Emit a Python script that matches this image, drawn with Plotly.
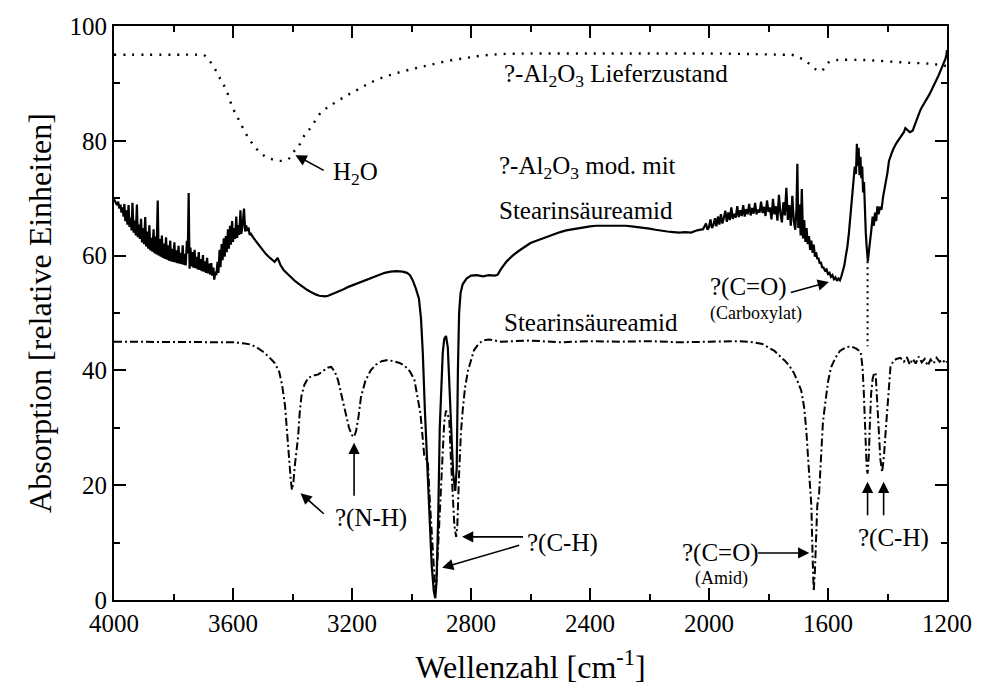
import plotly.graph_objects as go

# ---------------- data ----------------
# gamma-Al2O3 as delivered (dotted)
x_lief = [4000, 3800, 3720, 3697, 3680, 3657, 3640, 3623, 3603, 3580, 3557, 3540, 3523, 3505, 3490,
          3470, 3457, 3440, 3423, 3410, 3403, 3390, 3380, 3363, 3350, 3337, 3320, 3303, 3285, 3270,
          3250, 3223, 3200, 3170, 3140, 3103, 3050, 2990, 2940, 2880, 2820, 2770, 2700, 2600, 2400,
          2200, 2000, 1850, 1750, 1723, 1700, 1685, 1670, 1655, 1637, 1625, 1613, 1605, 1597, 1580,
          1557, 1500, 1450, 1390, 1330, 1280, 1250, 1223, 1200]
y_lief = [95.0, 95.0, 95.0, 94.9, 94.0, 92.2, 90.5, 88.9, 86.0, 83.6, 81.3, 79.9, 78.7, 77.8, 77.2,
          76.8, 76.6, 76.5, 76.6, 77.0, 77.8, 78.4, 79.0, 80.7, 81.6, 82.4, 83.8, 85.0, 85.7, 86.2,
          86.9, 87.7, 88.4, 89.2, 90.1, 90.9, 91.8, 92.6, 93.2, 93.9, 94.4, 94.8, 95.1, 95.2, 95.2,
          95.2, 95.2, 95.1, 95.0, 95.0, 94.6, 94.2, 93.7, 93.0, 92.3, 92.1, 92.6, 93.2, 93.7, 94.0,
          94.1, 94.1, 94.0, 93.8, 93.6, 93.5, 93.4, 93.2, 93.0]

# gamma-Al2O3 modified with stearic acid amide (solid)
x_mod = [4000, 3994, 3990, 3986, 3982, 3978, 3975, 3971, 3968, 3965, 3962, 3958, 3955, 3951, 3948,
         3944, 3941, 3938, 3934, 3930, 3927, 3923, 3920, 3916, 3913, 3909, 3906, 3902, 3899, 3895,
         3892, 3888, 3885, 3881, 3878, 3874, 3871, 3867, 3864, 3860, 3857, 3853, 3850, 3846, 3843,
         3839, 3836, 3832, 3829, 3825, 3822, 3818, 3815, 3811, 3808, 3804, 3801, 3797, 3794, 3790,
         3787, 3783, 3780, 3776, 3773, 3769, 3766, 3762, 3759, 3755, 3752, 3749, 3746, 3743, 3740,
         3736, 3733, 3729, 3726, 3722, 3719, 3715, 3712, 3708, 3705, 3701, 3698, 3694, 3691, 3687,
         3684, 3680, 3677, 3673, 3670, 3666, 3663, 3659, 3656, 3652, 3649, 3645, 3642, 3638, 3635,
         3631, 3628, 3624, 3621, 3617, 3614, 3610, 3607, 3603, 3600, 3596, 3593, 3589, 3586, 3582,
         3579, 3575, 3572, 3568, 3563, 3559, 3556, 3552, 3548, 3544, 3540, 3530, 3520, 3510, 3500,
         3490, 3480, 3470, 3460, 3450, 3440, 3430, 3420, 3410, 3400, 3390, 3380, 3370, 3360, 3350,
         3340, 3330, 3320, 3310, 3300, 3290, 3280, 3270, 3250, 3230, 3210, 3190, 3170, 3150, 3130,
         3110, 3090, 3070, 3050, 3030, 3015, 3005, 2995, 2985, 2975, 2968, 2962, 2955, 2948, 2940,
         2932, 2925, 2920, 2916, 2910, 2905, 2900, 2895, 2890, 2884, 2878, 2872, 2866, 2860, 2853,
         2848, 2844, 2840, 2835, 2828, 2815, 2800, 2780, 2760, 2740, 2720, 2710, 2700, 2680, 2660,
         2640, 2620, 2600, 2580, 2560, 2540, 2520, 2500, 2480, 2460, 2440, 2420, 2400, 2380, 2360,
         2340, 2320, 2300, 2280, 2260, 2240, 2220, 2200, 2180, 2160, 2140, 2120, 2100, 2080, 2060,
         2040, 2020, 2010, 2005, 2000, 1995, 1990, 1985, 1980, 1975, 1970, 1965, 1960, 1955, 1950,
         1945, 1940, 1935, 1930, 1925, 1920, 1915, 1910, 1905, 1900, 1895, 1890, 1885, 1880, 1875,
         1870, 1865, 1860, 1855, 1850, 1845, 1840, 1835, 1830, 1825, 1820, 1815, 1810, 1805, 1800,
         1795, 1790, 1785, 1780, 1775, 1770, 1765, 1760, 1755, 1750, 1745, 1740, 1735, 1730, 1725,
         1720, 1715, 1710, 1706, 1703, 1700, 1696, 1692, 1688, 1684, 1680, 1676, 1672, 1668, 1664,
         1660, 1656, 1652, 1648, 1644, 1640, 1636, 1632, 1628, 1624, 1620, 1615, 1610, 1605, 1600,
         1595, 1590, 1585, 1580, 1575, 1570, 1565, 1560, 1555, 1550, 1545, 1540, 1535, 1530, 1526,
         1522, 1518, 1514, 1510, 1506, 1503, 1500, 1497, 1494, 1491, 1488, 1485, 1482, 1479, 1476,
         1473, 1470, 1466, 1462, 1458, 1454, 1450, 1446, 1442, 1438, 1434, 1430, 1425, 1420, 1415,
         1410, 1405, 1400, 1395, 1390, 1385, 1380, 1375, 1370, 1365, 1360, 1355, 1350, 1345, 1340,
         1335, 1330, 1325, 1320, 1315, 1310, 1305, 1300, 1295, 1290, 1285, 1280, 1275, 1270, 1265,
         1260, 1255, 1250, 1245, 1240, 1235, 1230, 1225, 1220, 1215, 1210, 1205, 1202, 1200]
y_mod = [69.8, 69.3, 68.8, 69.4, 68.2, 68.9, 67.5, 68.4, 66.8, 69.0, 66.0, 67.9, 65.4, 68.8, 65.0,
         66.6, 64.4, 69.2, 64.0, 66.1, 63.5, 68.9, 63.2, 65.4, 62.9, 66.4, 62.3, 64.8, 62.0, 66.7,
         61.6, 64.2, 61.2, 65.3, 60.9, 63.1, 60.7, 64.6, 60.4, 63.3, 60.2, 69.6, 60.0, 62.9, 59.8,
         63.5, 59.6, 62.1, 59.4, 63.2, 59.3, 61.8, 59.1, 62.6, 59.0, 61.2, 58.9, 62.3, 58.8, 60.9,
         58.7, 61.7, 58.6, 60.5, 58.5, 61.8, 58.4, 60.3, 58.3, 62.6, 60.4, 70.9, 57.7, 61.4, 58.1,
         60.6, 57.9, 61.0, 57.8, 59.8, 57.6, 60.6, 57.5, 59.4, 57.3, 60.1, 57.2, 59.0, 57.0, 59.6,
         56.9, 58.6, 56.7, 58.7, 56.5, 57.9, 55.8, 57.2, 56.6, 58.9, 57.0, 61.0, 58.0, 62.0, 59.2,
         63.0, 59.8, 63.4, 60.6, 64.6, 61.2, 65.2, 61.9, 66.0, 62.4, 64.8, 62.9, 66.8, 63.1, 65.3,
         63.6, 67.9, 63.8, 65.2, 68.2, 64.2, 65.3, 64.3, 64.9, 63.6, 63.8, 63.0, 62.3, 61.5, 61.0,
         60.3, 59.8, 59.3, 58.9, 59.6, 58.3, 57.5, 57.0, 56.4, 55.9, 55.5, 55.1, 54.7, 54.3, 54.0,
         53.7, 53.4, 53.2, 53.0, 52.9, 52.9, 53.0, 53.2, 53.6, 54.1, 54.6, 55.0, 55.5, 55.9, 56.3,
         56.7, 57.0, 57.2, 57.3, 57.2, 57.0, 56.6, 55.6, 54.2, 52.5, 49.0, 43.0, 33.0, 24.0, 14.0,
         6.0, 1.5, 0.3, 3.0, 15.0, 30.0, 38.0, 43.0, 45.5, 46.0, 44.0, 36.0, 28.0, 22.0, 19.0,
         23.0, 40.0, 50.0, 53.5, 55.0, 56.0, 56.5, 56.6, 56.4, 56.6, 56.5, 56.7, 57.6, 59.0, 60.0,
         60.8, 61.5, 62.2, 62.6, 63.0, 63.4, 63.8, 64.1, 64.4, 64.6, 64.8, 65.0, 65.1, 65.2, 65.2,
         65.2, 65.3, 65.2, 65.2, 65.1, 65.0, 64.9, 64.7, 64.5, 64.3, 64.2, 64.1, 64.0, 64.1, 64.0,
         64.4, 64.6, 65.6, 64.5, 65.0, 66.3, 64.8, 65.3, 66.5, 65.1, 66.8, 65.4, 67.2, 65.6, 66.6,
         67.8, 65.9, 67.5, 66.2, 68.4, 66.4, 67.3, 66.6, 68.6, 66.7, 67.9, 66.9, 68.8, 66.8, 68.1,
         67.2, 69.0, 67.0, 68.3, 67.3, 69.2, 67.2, 68.0, 67.5, 69.4, 67.4, 68.5, 66.9, 69.6, 67.6,
         68.4, 66.3, 69.9, 67.2, 68.6, 66.1, 70.6, 67.4, 65.8, 69.3, 67.0, 71.8, 66.2, 68.8, 65.2,
         70.4, 66.0, 64.5, 68.2, 76.0, 64.8, 68.9, 63.5, 71.6, 63.0, 66.2, 62.4, 64.8, 62.0, 63.4,
         61.0, 62.6, 60.5, 61.9, 59.8, 60.6, 59.4, 59.6, 58.6, 58.9, 58.0, 57.9, 57.4, 57.6, 56.8,
         57.0, 56.3, 56.6, 55.9, 56.2, 55.6, 56.0, 55.7, 56.4, 57.2, 58.3, 60.0, 61.5, 63.8, 66.5,
         68.8, 71.0, 73.2, 75.5, 74.2, 79.5, 75.6, 78.8, 74.0, 77.2, 73.5, 75.5, 71.0, 72.8, 67.5,
         64.0, 61.5, 59.0, 61.0, 63.5, 64.6, 66.8, 65.2, 67.5, 66.0, 68.6, 67.2, 68.5, 68.0, 70.2,
         71.5, 73.0, 74.5, 76.5, 77.5, 78.0, 78.6, 79.2, 79.6, 80.0, 80.4, 80.7, 81.2, 81.5, 82.2,
         82.0, 81.7, 81.5, 81.6, 81.8, 82.5, 83.3, 84.0, 84.8, 85.3, 85.8, 86.2, 86.6, 87.0, 87.5,
         88.0, 88.5, 89.0, 89.5, 90.0, 90.6, 91.2, 91.8, 92.4, 92.9, 93.5, 94.3, 95.0, 95.8]

# stearic acid amide (dash-dot)
x_amid = [4000, 3800, 3700, 3600, 3560, 3540, 3520, 3500, 3480, 3460, 3445, 3435, 3425, 3418, 3412,
          3406, 3402, 3397, 3392, 3387, 3381, 3376, 3370, 3360, 3347, 3330, 3313, 3295, 3280, 3270,
          3258, 3247, 3235, 3223, 3210, 3200, 3193, 3186, 3178, 3170, 3155, 3137, 3120, 3100, 3080,
          3060, 3040, 3023, 3005, 2990, 2978, 2970, 2962, 2957, 2950, 2945, 2938, 2930, 2924, 2920,
          2916, 2910, 2903, 2896, 2890, 2884, 2878, 2873, 2868, 2862, 2856, 2850, 2846, 2840, 2834,
          2828, 2820, 2810, 2800, 2790, 2775, 2760, 2740, 2700, 2600, 2500, 2400, 2300, 2200, 2100,
          2000, 1900, 1850, 1820, 1800, 1780, 1760, 1745, 1730, 1715, 1700, 1690, 1680, 1673, 1666,
          1660, 1656, 1652, 1648, 1644, 1640, 1636, 1630, 1624, 1617, 1610, 1600, 1590, 1575, 1560,
          1540, 1523, 1505, 1490, 1484, 1480, 1475, 1470, 1467, 1463, 1459, 1455, 1450, 1445, 1440,
          1435, 1430, 1424, 1418, 1412, 1406, 1400, 1395, 1390, 1380, 1370, 1357, 1345, 1335, 1325,
          1315, 1305, 1295, 1285, 1275, 1265, 1255, 1245, 1235, 1225, 1215, 1205, 1200]
y_amid = [45.0, 45.0, 45.0, 44.9, 44.7, 44.5, 44.0, 43.3, 42.4, 41.3, 39.8, 37.5, 33.8, 28.5, 24.5,
          21.0, 19.2, 20.5, 23.5, 25.5, 28.5, 32.5, 35.5, 37.5, 38.7, 39.1, 39.3, 40.0, 40.5, 40.6,
          39.8, 38.3, 35.5, 32.5, 30.0, 28.7, 28.4, 29.5, 32.0, 35.3, 38.2, 40.0, 41.0, 41.6, 41.8,
          41.6, 41.3, 40.8, 39.8, 38.3, 35.0, 32.5, 28.0, 25.0, 24.5, 24.0, 17.0, 9.0, 4.0, 1.5,
          3.5, 10.0, 18.0, 26.0, 31.0, 33.0, 32.0, 31.5, 25.0, 18.0, 13.0, 11.0, 13.0, 22.0, 29.0,
          33.0, 37.0, 40.0, 42.0, 43.5, 44.6, 45.2, 45.4, 45.0, 45.2, 44.9, 45.1, 45.0, 45.1, 44.9,
          45.0, 45.1, 44.9, 44.6, 44.0, 43.4, 42.4, 41.7, 40.8, 39.6, 37.8, 36.5, 33.5, 29.6, 24.0,
          19.0, 16.5, 8.0, 1.5, 5.0, 12.0, 16.5, 18.5, 25.0, 31.0, 34.0, 38.0, 40.5, 42.2, 43.4,
          44.0, 44.2, 43.8, 43.2, 40.5, 36.6, 29.0, 23.0, 22.0, 25.0, 31.0, 36.0, 38.5, 39.5, 39.6,
          35.0, 29.6, 24.5, 22.3, 25.0, 29.5, 34.0, 38.5, 40.6, 41.7, 42.0, 42.2, 41.5, 42.3, 41.0,
          42.0, 41.2, 42.4, 41.4, 42.0, 40.8, 41.9, 41.2, 42.2, 41.5, 41.9, 41.2, 41.6]

# dotted marker line connecting the two bands near 1467 cm-1
x_marker = [1467, 1467]
y_marker = [59.0, 44.2]

x_ticks = [4000, 3600, 3200, 2800, 2400, 2000, 1600, 1200]
y_ticks = [0, 20, 40, 60, 80, 100]

FONT = "Liberation Serif"

fig = go.Figure()
fig.add_trace(go.Scatter(x=x_lief, y=y_lief, mode="lines",
                         line=dict(color="black", width=2.4, dash="2px,7px"),
                         line_shape="spline", showlegend=False))
fig.add_trace(go.Scatter(x=x_mod, y=y_mod, mode="lines",
                         line=dict(color="black", width=2.2), showlegend=False))
fig.add_trace(go.Scatter(x=x_amid, y=y_amid, mode="lines",
                         line=dict(color="black", width=2, dash="8px,3px,2px,3px"),
                         showlegend=False))
fig.add_trace(go.Scatter(x=x_marker, y=y_marker, mode="lines",
                         line=dict(color="black", width=2, dash="2px,4px"), showlegend=False))

texts = [
    # (text, x, y, size)
    ("?-Al<sub>2</sub>O<sub>3</sub> Lieferzustand", 2697, 91.3, 25),
    ("?-Al<sub>2</sub>O<sub>3</sub> mod. mit", 2713, 75.3, 25),
    ("Stearinsäureamid", 2713, 67.9, 25),
    ("Stearinsäureamid", 2697, 48.3, 25),
    ("?(C=O)", 2003, 54.5, 25),
    ("(Carboxylat)", 2003, 50.0, 18),
    ("H<sub>2</sub>O", 3270, 74.3, 25),
    ("?(N-H)", 3263, 14.3, 25),
    ("?(C-H)", 2620, 9.9, 25),
    ("?(C=O)", 2097, 8.2, 25),
    ("?(C-H)", 1507, 10.8, 25),
]
for t, x, y, s in texts:
    fig.add_annotation(x=x, y=y, text=t, showarrow=False, xanchor="left", yanchor="middle",
                       font=dict(family=FONT, size=s, color="black"))
fig.add_annotation(x=1957, y=3.8, text="(Amid)", showarrow=False, xanchor="center",
                   yanchor="middle", font=dict(family=FONT, size=18, color="black"))

arrows = [
    # tip x, tip y, tail x, tail y
    (3390, 77.5, 3290, 74.7),
    (3373, 18.6, 3290, 14.8),
    (3193, 27.4, 3193, 17.9),
    (2830, 11.0, 2620, 11.0),
    (2897, 5.6, 2633, 9.6),
    (1663, 8.2, 1840, 8.2),
    (1467, 20.6, 1467, 14.5),
    (1413, 20.6, 1413, 14.5),
    (1597, 55.4, 1730, 53.5),
]
for tx, ty, axx, ayy in arrows:
    fig.add_annotation(x=tx, y=ty, ax=axx, ay=ayy, xref="x", yref="y", axref="x", ayref="y",
                       text="", showarrow=True, arrowhead=2, arrowsize=1.4, arrowwidth=1.6,
                       arrowcolor="black", standoff=0, startstandoff=0)

axis_common = dict(showline=True, linecolor="black", linewidth=2, mirror="ticks",
                   ticks="inside", ticklen=12, tickwidth=2, tickcolor="black",
                   showgrid=False, zeroline=False,
                   tickfont=dict(family=FONT, size=25, color="black"))

fig.update_xaxes(range=[4000, 1200], tickvals=x_ticks,
                 minor=dict(ticks="inside", ticklen=6, tickwidth=2, dtick=200, tick0=0,
                            tickcolor="black", showgrid=False),
                 title=dict(text="Wellenzahl [cm<sup>-1</sup>]",
                            font=dict(family=FONT, size=32, color="black"), standoff=20),
                 **axis_common)
fig.update_yaxes(range=[0, 100], tickvals=y_ticks,
                 minor=dict(ticks="inside", ticklen=6, tickwidth=2, dtick=10, tick0=0,
                            tickcolor="black", showgrid=False),
                 title=dict(text="Absorption [relative Einheiten]",
                            font=dict(family=FONT, size=32, color="black"), standoff=8),
                 **axis_common)

fig.update_layout(width=984, height=693, margin=dict(l=114, r=30, t=26, b=93),
                  plot_bgcolor="white", paper_bgcolor="white",
                  font=dict(family=FONT, size=25, color="black"))

fig.write_html("out.html")
